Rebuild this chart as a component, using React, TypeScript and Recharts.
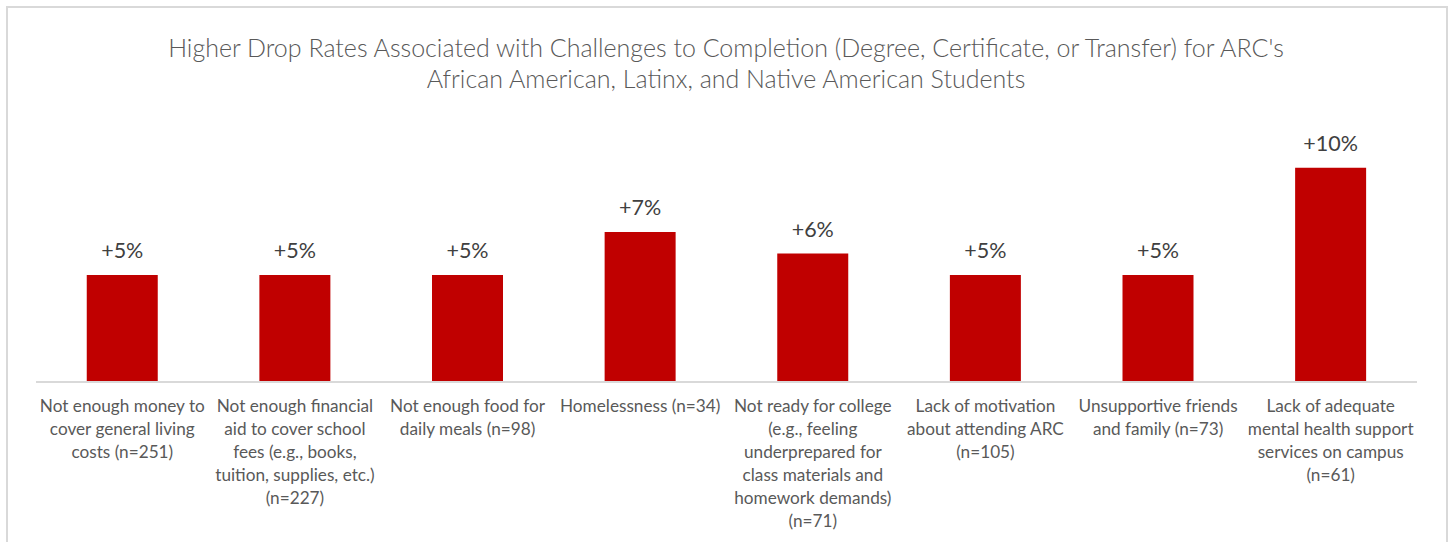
import React from "react";
import { BarChart, Bar, XAxis, YAxis, LabelList } from "recharts";

const categories = [
  "Not enough money to cover general living costs (n=251)",
  "Not enough financial aid to cover school fees (e.g., books, tuition, supplies, etc.) (n=227)",
  "Not enough food for daily meals (n=98)",
  "Homelessness (n=34)",
  "Not ready for college (e.g., feeling underprepared for class materials and homework demands) (n=71)",
  "Lack of motivation about attending ARC (n=105)",
  "Unsupportive friends and family (n=73)",
  "Lack of adequate mental health support services on campus (n=61)",
];

const tickLines: string[][] = [
  ["Not enough money to", "cover general living", "costs (n=251)"],
  ["Not enough financial", "aid to cover school", "fees (e.g., books,", "tuition, supplies, etc.)", "(n=227)"],
  ["Not enough food for", "daily meals (n=98)"],
  ["Homelessness (n=34)"],
  ["Not ready for college", "(e.g., feeling", "underprepared for", "class materials and", "homework demands)", "(n=71)"],
  ["Lack of motivation", "about attending ARC", "(n=105)"],
  ["Unsupportive friends", "and family (n=73)"],
  ["Lack of adequate", "mental health support", "services on campus", "(n=61)"],
];

const dropIncrease = [5, 5, 5, 7, 6, 5, 5, 10];

const titleLines = [
  "Higher Drop Rates Associated with Challenges to Completion (Degree, Certificate, or Transfer) for ARC's",
  "African American, Latinx, and Native American Students",
];

const data = categories.map((c, i) => ({ name: c, idx: i, value: dropIncrease[i] }));

const FONT = "Lato, 'Open Sans', sans-serif";

const Tick = (props: any) => {
  const { x, y, payload } = props;
  const lines = tickLines[payload.index] || [payload.value];
  return (
    <text x={x} y={y} textAnchor="middle" fill="#595959" fontFamily={FONT} fontSize={17.2}>
      {lines.map((l, i) => (
        <tspan key={i} x={x} y={y + 22 + i * 23}>
          {l}
        </tspan>
      ))}
    </text>
  );
};

export default function App() {
  return (
    <div style={{ position: "absolute", left: 0, top: 0, width: 1450, height: 542, overflow: "hidden", background: "#fff" }}>
      <div
        style={{
          position: "absolute",
          left: 6,
          top: 6,
          width: 1438,
          height: 600,
          border: "2px solid #d9d9d9",
        }}
      />
      {titleLines.map((t, i) => (
        <div
          key={i}
          style={{
            position: "absolute",
            left: 0,
            width: 1452,
            top: 33 + i * 31,
            textAlign: "center",
            fontFamily: FONT,
            fontSize: 25,
            fontWeight: 300,
            color: "#595959",
            lineHeight: "28px",
            whiteSpace: "nowrap",
          }}
        >
          {t}
        </div>
      ))}
      <div style={{ position: "absolute", left: 0, top: 0 }}>
        <BarChart
          width={1450}
          height={542}
          data={data}
          margin={{ top: 125, right: 33, left: 36, bottom: 0 }}
          barCategoryGap="29.4%"
        >
          <XAxis
            dataKey="name"
            interval={0}
            height={160}
            tickLine={false}
            axisLine={{ stroke: "#d9d9d9", strokeWidth: 2 }}
            tick={<Tick />}
          />
          <YAxis hide domain={[0, 12]} />
          <Bar dataKey="value" fill="#C00000" isAnimationActive={false}>
            <LabelList
              dataKey="value"
              position="top"
              offset={17}
              formatter={(v: any) => `+${v}%`}
              style={{ fill: "#404040", fontFamily: FONT, fontSize: 21.5 }}
            />
          </Bar>
        </BarChart>
      </div>
    </div>
  );
}
